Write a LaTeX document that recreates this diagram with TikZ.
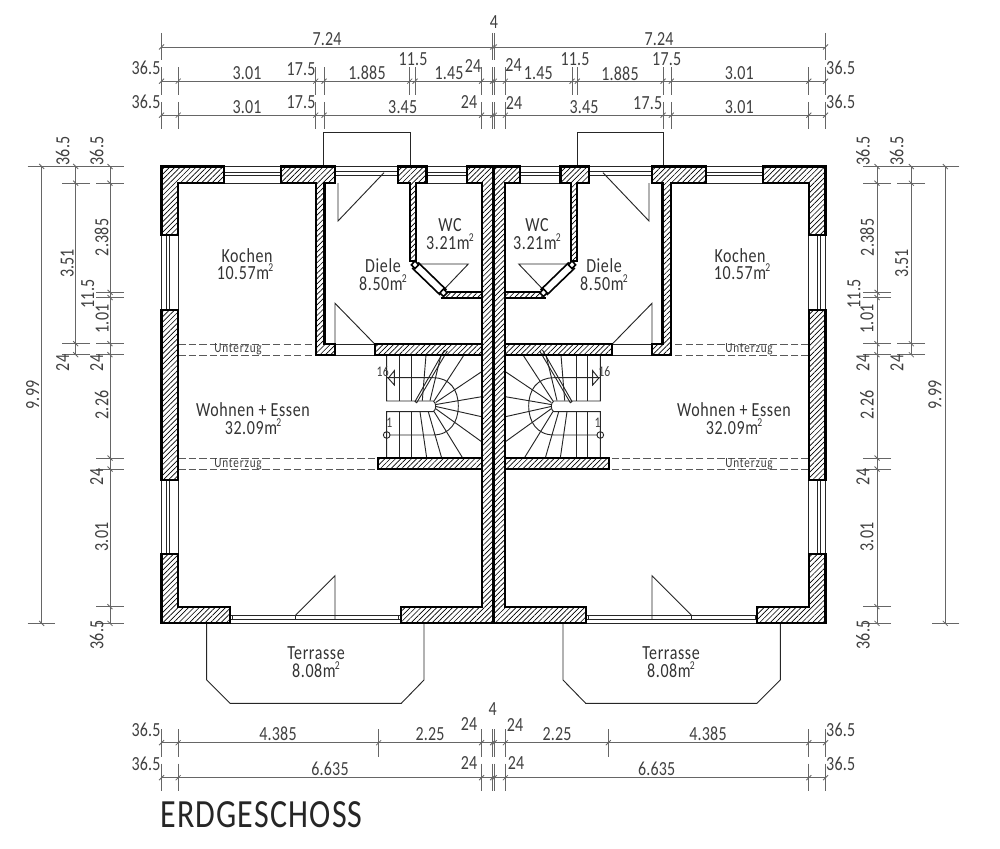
\documentclass[tikz,border=0pt]{standalone}
\usepackage{fontspec}
\setmainfont[FakeStretch=0.8,LetterSpace=1]{Carlito}
\usetikzlibrary{patterns.meta}
\tikzset{
  wall/.style={draw=black,line width=1.6pt,line join=miter,pattern={Lines[angle=45,distance=2.8pt,line width=.5pt]},pattern color=black},
  thinline/.style={draw=black!85,line width=.7pt},
  dimline/.style={draw=black!60,line width=.6pt},
  beam/.style={draw=black!65,line width=.65pt,dash pattern={on 5.5pt off 2.4pt}},
  dimlabel/.style={text=black!75,font=\fontsize{15}{15}\selectfont,inner sep=0pt},
  roomlabel/.style={text=black!80,font=\fontsize{15}{15}\selectfont\addfontfeatures{LetterSpace=3},inner sep=0pt},
  smalllabel/.style={text=black!75,font=\fontsize{11}{11}\selectfont,inner sep=0pt},
  beamlabel/.style={text=black!75,font=\fontsize{10.5}{10.5}\selectfont\addfontfeatures{LetterSpace=6},inner sep=0pt},
}
\newcommand{\sqm}{m\kern-.6pt\smash{\raisebox{.85ex}{\fontsize{9}{9}\selectfont 2}}}
\def\flip{1}
% one half of the house, mirrored for the other side
\newcommand{\halfplan}[1]{
%porch and terrace
\draw[thinline] (323.3,166.5) -- (323.3,132.7) -- (410,132.7) -- (410,166.5);
\draw[thinline] (206.7,623.4) -- (206.7,680) -- (230,703.3) -- (401.3,703.3) -- (424,680) -- (424,623.4);
%windows
\foreach \ya/\yb in {224/281.3,426.5/466.7}{
  \foreach \yy in {166.5,172.2,175.6,183.2}{\draw[thinline] (\ya,\yy) -- (\yb,\yy);}}
\foreach \yy in {166.5,171.8,175.6}{\draw[thinline] (335,\yy) -- (398,\yy);}
\foreach \ya/\yb in {235.4/309.7,480.3/554}{
  \foreach \xx in {161.5,166.7,169.7,178.2}{\draw[thinline] (\xx,\ya) -- (\xx,\yb);}}
\foreach \yy in {615,619.3,623.4}{\draw[thinline] (230,\yy) -- (401,\yy);}
\foreach \xx in {232,295.7,398.5}{\draw[thinline] (\xx,615) -- (\xx,619.3);}
%doors
\draw[thinline] (338,183.2) -- (338,221) -- (384,172.7);
\draw[thinline] (335,619.3) -- (335,575.7) -- (295.7,615);
\draw[thinline] (375,344.3) -- (335,303.3) -- (335,344.3);
\draw[thinline] (417,264) -- (468.3,264) -- (443.5,290);
%beams
\draw[thinline] (335,344.3) -- (375,344.3) (335,355) -- (375,355);
\foreach \yy in {344.3,355}{\draw[beam] (178.2,\yy) -- (315.7,\yy);}
\foreach \yy in {458.3,469.3}{\draw[beam] (178.2,\yy) -- (378.3,\yy);}
%stairs
\draw[thinline] (386.7,355) -- (386.7,401) -- (433.3,401) .. controls (436.5,403) and (436.5,409.7) .. (433.3,411.7) -- (386.7,411.7) -- (386.7,458);
\foreach \xx in {399.3,411}{\draw[thinline] (\xx,355) -- (\xx,401) (\xx,411.7) -- (\xx,458);}
\foreach \xa/\ya/\xb/\yb in {426/355/422.3/400.6,441/355/430/400.6,464/355/434/401,481.6/371.7/435.7/402.5,481.6/396.7/436/404.5,481.6/416.7/436/406.5,481.6/441.7/435.7/408.7,462.7/458/434/411.5,441.7/458/428.3/411.7,426.7/458/420/411.7}{
  \draw[thinline] (\xa,\ya) -- (\xb,\yb);}
\draw[thinline] (447.3,351) -- (416.7,402.7) -- (415,401.5) -- (444.5,350);
\draw[thinline] (386.7,377.7) -- (433,377.7) .. controls (450,377.7) and (458.3,390) .. (458.3,406) .. controls (458.3,422) and (450,435) .. (433,435) -- (390,435);
\draw[thinline] (388.3,378.2) -- (394.3,370.7) -- (394.3,385) -- cycle;
\node[thinline,draw,circle,inner sep=0pt,minimum size=5pt] (#1start) at (386.7,435) {};
\node[smalllabel] (#1top) at (382.7,372) {16};
\node[smalllabel] (#1one) at (389.3,423) {1};
%walls
\draw[wall] (161.5,166.5) -- (224,166.5) -- (224,183.2) -- (178.2,183.2) -- (178.2,235.4) -- (161.5,235.4) -- cycle;
\draw[wall] (161.5,309.7) rectangle (178.2,480.3);
\draw[wall] (161.5,554) -- (178.2,554) -- (178.2,606.7) -- (230,606.7) -- (230,623.4) -- (161.5,623.4) -- cycle;
\draw[wall] (281.3,166.5) -- (335,166.5) -- (335,183.2) -- (324.5,183.2) -- (324.5,344.3) -- (335,344.3) -- (335,355) -- (315.7,355) -- (315.7,183.2) -- (281.3,183.2) -- cycle;
\draw[wall] (398,166.5) -- (426.5,166.5) -- (426.5,183.2) -- (415.8,183.2) -- (415.8,261) -- (410,261) -- (410,183.2) -- (398,183.2) -- cycle;
\draw[wall] (447,292.3) -- (481.6,292.3) -- (481.6,297.7) -- (441,297.7);
\draw[wall] (466.7,166.5) -- (492.6,166.5) -- (492.6,623.4) -- (401,623.4) -- (401,606.7) -- (481.6,606.7) -- (481.6,183.2) -- (466.7,183.2) -- cycle;
\draw[wall] (375,344.3) rectangle (481.6,355);
\draw[wall] (378.3,458.3) rectangle (481.6,469.3);
%thin slanted wall of the wc
\draw[black,line width=1.2pt] (418.2,262.5) -- (446.5,290) (412.2,268) -- (440.2,295);
\draw[black,fill=white,line width=1.2pt] (415,261) -- (418.6,264.8) -- (415,268.6) -- (411.4,264.8) -- cycle;
\draw[black,fill=white,line width=1.2pt] (443.5,289) -- (447.1,292.8) -- (443.5,296.6) -- (439.9,292.8) -- cycle;
%room names
\node[roomlabel] (#1kochen) at (247,255.5) {Kochen};
\node[roomlabel] (#1kochenm) at (245,273.5) {10.57\sqm};
\node[roomlabel] (#1diele) at (383,266) {Diele};
\node[roomlabel] (#1dielem) at (383,284) {8.50\sqm};
\node[roomlabel] (#1wc) at (450,225) {WC};
\node[roomlabel] (#1wcm) at (450,243) {3.21\sqm};
\node[roomlabel] (#1wohnen) at (253,410) {Wohnen + Essen};
\node[roomlabel] (#1wohnenm) at (253,428) {32.09\sqm};
\node[roomlabel] (#1terrasse) at (316,653.5) {Terrasse};
\node[roomlabel] (#1terrassem) at (316,671) {8.08\sqm};
\node[beamlabel] (#1beama) at (238,349.5) {Unterzug};
\node[beamlabel] (#1beamb) at (238,463.8) {Unterzug};
%dimension lines on top
\foreach \yy in {47,81.2,115.2}{\draw[dimline] (161.5,\yy) -- (493.5,\yy);}
\foreach \xx in {161.5,492.6}{\draw[dimline] (\xx,33) -- (\xx,60) (\xx,67.5) -- (\xx,95) (\xx,102) -- (\xx,129);
  \draw[dimline] (\xx,47) ++(-2.5*\flip,2.5) -- ++(5*\flip,-5);}
\foreach \xx in {178.2,315.7,324,481.6}{\draw[dimline] (\xx,67.5) -- (\xx,95) (\xx,102) -- (\xx,129);}
\foreach \xx in {409.7,415}{\draw[dimline] (\xx,67.5) -- (\xx,95);}
\foreach \xx in {161.5,178.2,315.7,324,409.7,415,481.6,492.6}{\draw[dimline] (\xx,81.2) ++(-2.5*\flip,2.5) -- ++(5*\flip,-5);}
\foreach \xx in {161.5,178.2,315.7,324,481.6,492.6}{\draw[dimline] (\xx,115.2) ++(-2.5*\flip,2.5) -- ++(5*\flip,-5);}
%dimension lines below
\foreach \yy in {742.7,777.7}{\draw[dimline] (161.5,\yy) -- (493.5,\yy);}
\foreach \xx in {161.5,178.2,481.6,492.6}{\draw[dimline] (\xx,729) -- (\xx,756.7) (\xx,763.5) -- (\xx,790.7);
  \draw[dimline] (\xx,777.7) ++(-2.5*\flip,2.5) -- ++(5*\flip,-5);}
\draw[dimline] (378.7,729) -- (378.7,756.7);
\foreach \xx in {161.5,178.2,378.7,481.6,492.6}{\draw[dimline] (\xx,742.7) ++(-2.5*\flip,2.5) -- ++(5*\flip,-5);}
%dimension lines at the side
\draw[dimline] (41.7,166.5) -- (41.7,623.4) (110,166.5) -- (110,623.4) (75.7,166.5) -- (75.7,354.7);
\draw[dimline] (27.7,166.5) -- (124,166.5) (27.7,623.4) -- (55,623.4);
\foreach \yy in {183.2,292.3,297.5,343.7,354.7,458,469,606.7,623.4}{\draw[dimline] (96,\yy) -- (124,\yy);}
\foreach \yy in {183.2,343.7,354.7}{\draw[dimline] (62,\yy) -- (90,\yy);}
\foreach \yy in {166.5,183.2,292.3,297.5,343.7,354.7,458,469,606.7,623.4}{\draw[dimline] (110,\yy) ++(-2.5*\flip,-2.5) -- ++(5*\flip,5);}
\foreach \yy in {166.5,183.2,343.7,354.7}{\draw[dimline] (75.7,\yy) ++(-2.5*\flip,-2.5) -- ++(5*\flip,5);}
\foreach \yy in {166.5,623.4}{\draw[dimline] (41.7,\yy) ++(-2.5*\flip,-2.5) -- ++(5*\flip,5);}
}
\begin{document}
\begin{tikzpicture}[x=0.75pt,y=0.75pt,yscale=-1,xscale=1]
\useasboundingbox (0,0) rectangle (1000,849);
\halfplan{l}
\begin{scope}[shift={(987,0)},xscale=-1]
\def\flip{-1}
\halfplan{r}
\end{scope}
%dimension texts on top and below
\foreach \xx/\yy/\tt [count=\i] in {
  494/22/4,327/39/7.24,659/39/7.24,
  146/68.3/36.5,247/72.7/3.01,301/69/17.5,367/72.7/1.885,413/59/11.5,449/72.7/1.45,473/66/24,
  146/102/36.5,247/107/3.01,301/102/17.5,402.7/107/3.45,469/102/24,
  513.5/65/24,538.3/73.3/1.45,575/59.3/11.5,620/73.3/1.885,666.7/59.3/17.5,739.3/73.3/3.01,840.7/68.3/36.5,
  514/103.5/24,584/107.3/3.45,647.7/102.7/17.5,739.3/107.3/3.01,840.7/102.3/36.5,
  492.7/709/4,146/730/36.5,278/734/4.385,430/734/2.25,469/724/24,515/725/24,557/734/2.25,708/734/4.385,840.7/730/36.5,
  146/764/36.5,330/769/6.635,469/762.7/24,516/763/24,656.7/769/6.635,840.7/764/36.5}{
  \node[dimlabel] (dim\i) at (\xx,\yy) {\tt};
}
%dimension texts at the sides
\foreach \xx/\yy/\tt [count=\i] in {
  62.7/151/36.5,96.7/151/36.5,101.7/237.4/2.385,67.3/263.4/3.51,87.7/294/11.5,102.3/319/1.01,62.7/363/24,96.7/363/24,101.7/405/2.26,96.7/477/24,101.7/537/3.01,96.7/635/36.5,32.7/395/9.99,
  863/151/36.5,896.7/151/36.5,867/237.4/2.385,901.7/263.4/3.51,854/294/11.5,867/319/1.01,863/363/24,897/363/24,867/405/2.26,863/477/24,867/537/3.01,863/635/36.5,935/395/9.99}{
  \node[dimlabel,rotate=90] (side\i) at (\xx,\yy) {\tt};
}
\node[anchor=west,inner sep=0pt,text=black!85,font=\fontsize{30}{30}\selectfont\addfontfeatures{LetterSpace=3}] (title) at (160,815) {ERDGESCHOSS};
\end{tikzpicture}
\end{document}
